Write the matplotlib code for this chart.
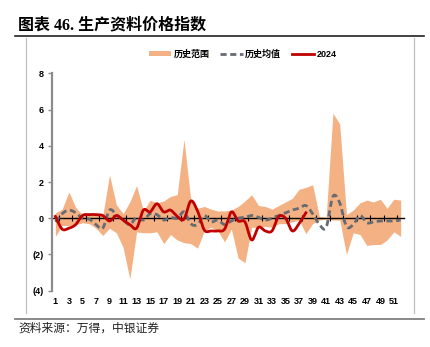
import numpy as np
import matplotlib.pyplot as plt
from matplotlib.lines import Line2D
from matplotlib.patches import Patch

plt.rcParams['font.family'] = ['Liberation Sans', 'Noto Sans CJK SC', 'DejaVu Sans']

# weekly values
weeks = list(range(1, 53))
hist_high = [0.3, 0.5, 1.45, 0.6, 0.2, 0.15, 0.15, 0.15, 2.4, 0.75,
             0.25, 0.9, 1.8, 0.4, 1.0, 0.85, 0.95, 1.2, 1.3, 4.35,
             1.0, 0.55, 0.65, 0.5, 0.4, 0.4, 0.45, 0.65, 0.95, 1.3,
             0.7, 0.65, 0.5, 0.7, 0.9, 1.1, 1.6, 1.7, 1.85, 0.1,
             0.05, 5.8, 5.2, 0.2, 0.45, 0.85, 1.0, 0.9, 1.05, 0.55,
             1.05, 1.0]
hist_low = [-1.0, -0.4, -0.4, -0.35, -0.25, -0.3, -0.55, -0.95, -0.55, -0.8,
            -1.6, -3.35, -0.75, -0.8, -0.8, -0.75, -1.4, -0.9, -1.2, -1.35,
            -1.4, -1.65, -0.7, -0.5, -0.7, -1.3, -0.6, -2.2, -2.45, -0.5,
            -0.5, -0.45, -0.5, -0.3, -0.3, -0.2, -0.1, -0.85, -0.3, -0.1,
            -0.05, -0.1, -0.1, -2.0, -0.8, -0.9, -1.5, -1.45, -1.45, -1.2,
            -0.75, -1.0]
hist_mean = [-0.2, 0.25, 0.45, 0.3, 0.0, -0.05, -0.35, -0.55, 0.45, 0.2,
             -0.1, -0.35, 0.05, -0.1, 0.25, 0.2, -0.1, 0.05, 0.0, 0.35,
             -0.3, -0.35, 0.15, -0.2, -0.1, -0.35, -0.15, 0.0, 0.05, 0.15,
             0.05, -0.1, 0.0, 0.15, 0.3, 0.45, 0.55, 0.7, 0.25, -0.35,
             -0.5, 1.2, 0.85, -0.45, -0.35, 0.15, -0.25, -0.2, -0.15, -0.15,
             -0.15, -0.1]
y2024 = [0.1, -0.6, -0.55, -0.35, 0.15, 0.2, 0.2, 0.15, -0.15, 0.15,
         -0.1, -0.35, -0.55, 0.45, 0.35, 0.8, 0.35, 0.45, 0.1, -0.05,
         0.95, 0.4, -0.65, -0.7, -0.7, -0.6, 0.35, -0.15, -0.2, -1.2,
         -0.5, -0.7, -0.7, 0.1, 0.0, -0.7, -0.3, 0.3]

xtick_labels = [str(w) for w in range(1, 52, 2)]
ytick_vals = [-4, -2, 0, 2, 4, 6, 8]
ytick_labels = ['(4)', '(2)', '0', '2', '4', '6', '8']

band_color = '#F4B183'
mean_color = '#646B72'
red = '#C00000'
dash = (0, (2.2, 1.3))


def smooth(xs, ys, n=12):
    # Catmull-Rom curve through the points, like a smoothed Excel line
    x = np.asarray(xs, float)
    y = np.asarray(ys, float)
    px = np.concatenate([[2 * x[0] - x[1]], x, [2 * x[-1] - x[-2]]])
    py = np.concatenate([[2 * y[0] - y[1]], y, [2 * y[-1] - y[-2]]])
    t = np.linspace(0, 1, n, endpoint=False)
    ox, oy = [], []
    for i in range(1, len(px) - 2):
        for p, o in ((px, ox), (py, oy)):
            p0, p1, p2, p3 = p[i - 1], p[i], p[i + 1], p[i + 2]
            o.extend(0.5 * (2 * p1 + (-p0 + p2) * t
                            + (2 * p0 - 5 * p1 + 4 * p2 - p3) * t ** 2
                            + (-p0 + 3 * p1 - 3 * p2 + p3) * t ** 3))
    ox.append(x[-1])
    oy.append(y[-1])
    return ox, oy


fig = plt.figure(figsize=(4.31, 3.47), dpi=100)
ax = fig.add_axes([0.1206, 0.1622, 0.9374 - 0.1206, 0.7888 - 0.1622])

ax.fill_between(weeks, hist_low, hist_high, color=band_color, lw=0, zorder=1)
mx, my = smooth(weeks, hist_mean)
ax.plot(mx, my, color=mean_color, lw=2, ls=dash, zorder=3)
rx, ry = smooth(weeks[:len(y2024)], y2024)
ax.plot(rx, ry, color=red, lw=2, zorder=4)

ax.set_xlim(0.5, 52.5)
ax.set_ylim(-4, 8)

for s in ['top', 'right']:
    ax.spines[s].set_visible(False)
ax.spines['left'].set_color('#8C8C8C')
ax.spines['left'].set_linewidth(1.6)
ax.spines['bottom'].set_position(('data', 0))
ax.spines['bottom'].set_color('black')
ax.spines['bottom'].set_linewidth(1.0)
ax.spines['bottom'].set_zorder(2)

ax.set_yticks(ytick_vals, ytick_labels)
ax.tick_params(axis='y', length=3, width=1, color='#8C8C8C', pad=3,
               labelsize=6.5, labelcolor='black')
for lab in ax.get_yticklabels():
    lab.set_fontweight('bold')

ax.set_xticks(list(range(1, 52, 2)), xtick_labels)
ax.set_xticks(np.arange(1.5, 53, 2), minor=True)
ax.tick_params(axis='x', which='major', length=0, pad=57, labelsize=6.5)
ax.tick_params(axis='x', which='minor', length=4, width=0.8,
               direction='inout', color='black')
for lab in ax.get_xticklabels():
    lab.set_fontweight('bold')

handles = [Patch(facecolor=band_color, edgecolor='none'),
           Line2D([], [], color=mean_color, lw=2, ls=dash),
           Line2D([], [], color=red, lw=2)]
leg = fig.legend(handles, ['历史范围', '历史均值', '2024'], loc='center',
                 bbox_to_anchor=(0.563, 0.844), ncol=3, frameon=False,
                 fontsize=6.5, handlelength=2.5, handleheight=0.45,
                 handletextpad=0.25, columnspacing=1.2)
for t in leg.get_texts():
    t.set_fontweight('bold')

# report frame
fig.text(0.042, 0.928, '图表 46. 生产资料价格指数', fontsize=11.5, fontweight='bold',
         family=['Liberation Serif', 'Noto Sans CJK SC'], va='center', ha='left')
fig.add_artist(Line2D([0.035, 0.983], [0.897, 0.897], color='#222222', lw=1.2))
fig.add_artist(Line2D([0.0603, 0.0603], [0.099, 0.890], color='#BFBFBF', lw=0.9))
fig.add_artist(Line2D([0.9606, 0.9606], [0.099, 0.890], color='#BFBFBF', lw=0.9))
fig.add_artist(Line2D([0.035, 0.983], [0.080, 0.080], color='#808080', lw=1.3))
fig.text(0.042, 0.054, '资料来源：万得，中银证券', fontsize=8.5, va='center', ha='left',
         family=['Noto Sans CJK SC'], color='#222222')

fig.savefig('out.png', dpi=100)
